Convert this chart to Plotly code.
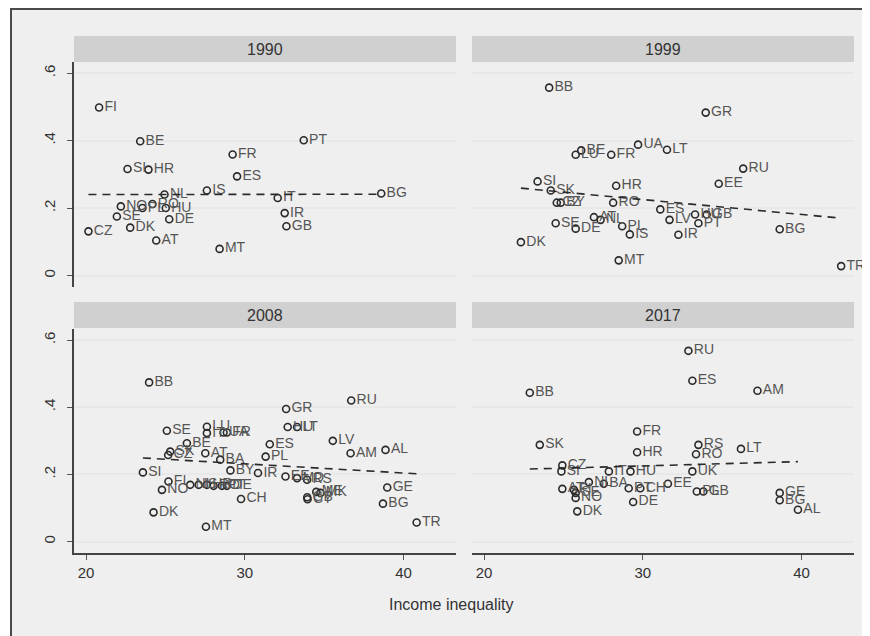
import plotly.graph_objects as go

# values (x = income inequality, y = outcome)
codes_1990 = ["FI", "BE", "PT", "FR", "SI", "HR", "ES", "IS", "BG", "NL", "IT", "NO", "PL", "RO",
              "HU", "DE", "SE", "DK", "CZ", "AT", "MT", "IR", "GB"]
ineq_1990 = [20.82, 23.41, 33.71, 29.23, 22.61, 23.93, 29.51, 27.61, 38.59, 24.94, 32.07, 22.19, 23.55, 24.18,
             25.02, 25.24, 21.94, 22.78, 20.15, 24.42, 28.41, 32.51, 32.62]
val_1990 = [0.498, 0.398, 0.401, 0.359, 0.316, 0.314, 0.294, 0.252, 0.243, 0.240, 0.230, 0.205, 0.200, 0.212,
            0.200, 0.167, 0.175, 0.142, 0.131, 0.104, 0.079, 0.185, 0.146]
fit_x_1990 = [20.15, 38.59]
fit_y_1990 = [0.240, 0.241]

codes_1999 = ["BB", "GR", "UA", "LT", "BE", "LU", "FR", "RU", "EE", "HR", "SI", "SK", "CZ", "BY", "RO",
              "ES", "HU", "GB", "LV", "PT", "SE", "DE", "AT", "NL", "PL", "IS", "IR", "DK", "MT", "BG", "TR"]
ineq_1999 = [24.10, 33.96, 29.70, 31.52, 26.12, 25.77, 28.01, 36.32, 34.78, 28.32, 23.37, 24.20, 24.58, 24.83, 28.13,
             31.10, 33.29, 34.02, 31.68, 33.50, 24.51, 25.77, 26.92, 27.34, 28.70, 29.18, 32.24, 22.32, 28.48, 38.62, 42.49]
val_1999 = [0.557, 0.483, 0.388, 0.373, 0.371, 0.358, 0.358, 0.317, 0.272, 0.266, 0.279, 0.252, 0.216, 0.216, 0.216,
            0.196, 0.181, 0.181, 0.165, 0.155, 0.155, 0.139, 0.173, 0.165, 0.146, 0.122, 0.121, 0.099, 0.045, 0.137, 0.028]
fit_x_1999 = [22.32, 42.49]
fit_y_1999 = [0.259, 0.170]

codes_2008 = ["BB", "RU", "GR", "HU", "LT", "SE", "LU", "IT", "UA", "FR", "BE", "ES", "LV", "AM", "AL", "PL",
              "SK", "CZ", "AT", "BA", "BY", "IR", "SI", "EE", "MD", "RS", "FI", "NL", "IS", "HR", "RO", "PT",
              "DE", "NO", "CH", "GB", "CY", "MK", "ME", "GE", "BG", "TR", "DK", "MT"]
ineq_2008 = [23.97, 36.70, 32.60, 32.70, 33.29, 25.09, 27.61, 27.61, 28.66, 28.87, 26.35, 31.57, 35.54, 36.66, 38.86, 31.31,
             25.30, 25.17, 27.51, 28.45, 29.09, 30.83, 23.58, 32.56, 33.29, 33.92, 25.19, 26.56, 27.09, 27.61, 28.03, 28.56,
             28.87, 24.78, 29.76, 33.93, 33.95, 34.76, 34.50, 38.97, 38.70, 40.82, 24.25, 27.55]
val_2008 = [0.474, 0.420, 0.395, 0.341, 0.341, 0.330, 0.342, 0.323, 0.325, 0.325, 0.293, 0.290, 0.300, 0.263, 0.273, 0.253,
            0.268, 0.258, 0.263, 0.244, 0.212, 0.204, 0.206, 0.194, 0.189, 0.184, 0.179, 0.169, 0.169, 0.169, 0.166, 0.166,
            0.166, 0.154, 0.127, 0.132, 0.126, 0.145, 0.148, 0.161, 0.113, 0.057, 0.087, 0.044]
fit_x_2008 = [23.58, 40.82]
fit_y_2008 = [0.249, 0.202]

codes_2017 = ["RU", "ES", "AM", "BB", "FR", "SK", "HR", "RS", "RO", "LT", "UK", "CZ", "SI", "IT", "HU", "NL",
              "BA", "AT", "FI", "SE", "NO", "PT", "CH", "EE", "PL", "GB", "DE", "DK", "GE", "BG", "AL"]
ineq_2017 = [32.87, 33.12, 37.22, 22.88, 29.64, 23.51, 29.64, 33.50, 33.35, 36.18, 33.12, 24.93, 24.87, 27.86, 29.22, 26.60,
             27.54, 24.93, 25.66, 25.77, 25.77, 29.11, 29.84, 31.58, 33.40, 33.81, 29.39, 25.87, 38.62, 38.62, 39.77]
val_2017 = [0.568, 0.479, 0.449, 0.443, 0.328, 0.288, 0.266, 0.288, 0.260, 0.276, 0.209, 0.227, 0.209, 0.209, 0.209, 0.177,
            0.172, 0.157, 0.154, 0.145, 0.130, 0.159, 0.159, 0.172, 0.149, 0.149, 0.118, 0.090, 0.145, 0.123, 0.095]
fit_x_2017 = [22.88, 39.77]
fit_y_2017 = [0.216, 0.238]

years = ["1990", "1999", "2008", "2017"]
panels = [
    (codes_1990, ineq_1990, val_1990, fit_x_1990, fit_y_1990),
    (codes_1999, ineq_1999, val_1999, fit_x_1999, fit_y_1999),
    (codes_2008, ineq_2008, val_2008, fit_x_2008, fit_y_2008),
    (codes_2017, ineq_2017, val_2017, fit_x_2017, fit_y_2017),
]

# the page body adds an 8px margin, so the figure is 8px smaller and positions are shifted
OFF = 8
W, H = 870 - OFF, 636 - OFF
FONT = "Liberation Sans, Arial, sans-serif"


def px_x(p):
    return (p - OFF) / W


def px_y(p):
    return 1 - (p - OFF) / H


# panel boxes in window pixels: (left, right) and (top, bottom)
x_boxes = [(74, 456), (472, 854)]
y_boxes = [(62, 287), (329, 553)]
header_tops = [36, 302]

fig = go.Figure()

for i, (codes, xs, ys, fx, fy) in enumerate(panels):
    n = "" if i == 0 else str(i + 1)
    fig.add_trace(go.Scatter(
        x=xs, y=ys, text=codes, mode="markers+text", textposition="middle right",
        marker=dict(symbol="circle-open", size=7, color="#2a2a2a", line=dict(width=1.6)),
        textfont=dict(family=FONT, size=14, color="#555555"),
        xaxis="x" + n, yaxis="y" + n, showlegend=False, cliponaxis=False,
    ))
    fig.add_trace(go.Scatter(
        x=fx, y=fy, mode="lines", line=dict(color="#2a2a2a", width=1.6, dash="8px,6px"),
        xaxis="x" + n, yaxis="y" + n, showlegend=False,
    ))

layout = {}
for i in range(4):
    row, col = divmod(i, 2)
    n = "" if i == 0 else str(i + 1)
    xl, xr = x_boxes[col]
    yt, yb = y_boxes[row]
    bottom = row == 1
    left = col == 0
    layout["xaxis" + n] = dict(
        domain=[px_x(xl), px_x(xr)], range=[19.24, 43.3], anchor="y" + n,
        tickvals=[20, 30, 40], showticklabels=bottom, ticks="outside" if bottom else "",
        ticklen=5, tickcolor="#555555", showline=bottom, linecolor="#444444", linewidth=1.5,
        showgrid=False, zeroline=False,
        tickfont=dict(family=FONT, size=15, color="#333333"),
    )
    layout["yaxis" + n] = dict(
        domain=[px_y(yb), px_y(yt)], range=[-0.034, 0.633], anchor="x" + n,
        tickvals=[0, 0.2, 0.4, 0.6], ticktext=["0", ".2", ".4", ".6"], tickangle=-90,
        showticklabels=left, ticks="outside" if left else "", ticklen=5, tickcolor="#555555",
        ticklabelstandoff=6,
        showline=left, linecolor="#444444", linewidth=1.5,
        showgrid=True, gridcolor="#e8e8e8", gridwidth=2, zeroline=False,
        tickfont=dict(family=FONT, size=15, color="#333333"),
    )

shapes = [
    # outer frame
    dict(type="rect", xref="paper", yref="paper", x0=px_x(11), x1=1.02, y0=-0.02, y1=px_y(9),
         fillcolor="#efefef", line=dict(color="#4a4a4a", width=2), layer="below"),
]
annotations = []
for i, year in enumerate(years):
    row, col = divmod(i, 2)
    xl, xr = x_boxes[col]
    top = header_tops[row]
    shapes.append(dict(type="rect", xref="paper", yref="paper",
                       x0=px_x(xl), x1=px_x(xr), y0=px_y(top + 26), y1=px_y(top),
                       fillcolor="#d0d0d0", line=dict(width=0), layer="below"))
    annotations.append(dict(text=year, xref="paper", yref="paper", x=px_x((xl + xr) / 2),
                            y=px_y(top + 13), xanchor="center", yanchor="middle", showarrow=False,
                            font=dict(family=FONT, size=16, color="#333333")))

annotations.append(dict(text="Income inequality", xref="paper", yref="paper", x=px_x(452), y=px_y(604),
                        xanchor="center", yanchor="middle", showarrow=False,
                        font=dict(family=FONT, size=16, color="#333333")))

fig.update_layout(
    **layout,
    shapes=shapes,
    annotations=annotations,
    width=W, height=H, autosize=False,
    margin=dict(l=0, r=0, t=0, b=0),
    paper_bgcolor="white",
    plot_bgcolor="white",
)

fig.write_html("out.html")
